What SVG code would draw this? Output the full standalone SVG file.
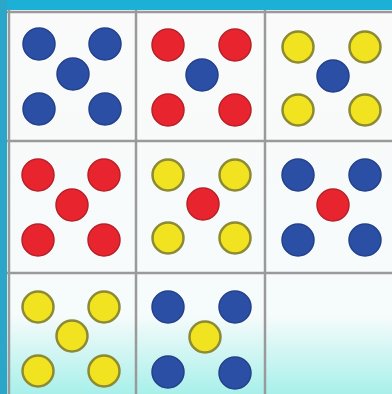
<svg xmlns="http://www.w3.org/2000/svg" width="392" height="394" viewBox="0 0 392 394">
<defs>
<linearGradient id="bg" x1="0" y1="0" x2="0" y2="1">
<stop offset="0" stop-color="#fafafa"/>
<stop offset="0.8" stop-color="#f6fbfb"/>
<stop offset="1" stop-color="#a8f0ea"/>
</linearGradient>
<style>
.b{fill:#2c4fa6;stroke:#23408a;stroke-width:1.5}
.r{fill:#e8252f;stroke:#b82028;stroke-width:1.5}
.y{fill:#f1e320;stroke:#8c8a34;stroke-width:2.5}
.g{stroke:#9a9a9a;stroke-width:2.5;fill:none}
</style>
</defs>
<rect width="392" height="394" fill="url(#bg)"/>
<rect x="0" y="0" width="392" height="10" fill="#1cb0d6"/>
<rect x="0" y="0" width="7" height="394" fill="#2ba6c8"/>
<g id="grid">
<line class="g" x1="7" y1="12" x2="392" y2="12" stroke="#7a7a7a"/>
<line class="g" x1="9" y1="10" x2="9" y2="394"/>
<line class="g" x1="7" y1="141" x2="392" y2="141"/>
<line class="g" x1="7" y1="273" x2="392" y2="273"/>
<line class="g" x1="136" y1="10" x2="136" y2="394"/>
<line class="g" x1="265" y1="10" x2="265" y2="394"/>
</g>
<g id="cell1"><circle class="b" cx="39" cy="44" r="16"/><circle class="b" cx="105" cy="44" r="16"/><circle class="b" cx="73" cy="74" r="16"/><circle class="b" cx="39" cy="109" r="16"/><circle class="b" cx="105" cy="109" r="16"/></g>
<g id="cell2"><circle class="r" cx="168" cy="45" r="16"/><circle class="r" cx="235" cy="45" r="16"/><circle class="b" cx="202" cy="75" r="16"/><circle class="r" cx="168" cy="110" r="16"/><circle class="r" cx="235" cy="110" r="16"/></g>
<g id="cell3"><circle class="y" cx="298" cy="47" r="15.5"/><circle class="y" cx="365" cy="47" r="15.5"/><circle class="b" cx="333" cy="76" r="16"/><circle class="y" cx="298" cy="110" r="15.5"/><circle class="y" cx="365" cy="110" r="15.5"/></g>
<g id="cell4"><circle class="r" cx="38" cy="175" r="16"/><circle class="r" cx="104" cy="175" r="16"/><circle class="r" cx="72" cy="205" r="16"/><circle class="r" cx="38" cy="240" r="16"/><circle class="r" cx="104" cy="240" r="16"/></g>
<g id="cell5"><circle class="y" cx="168" cy="175" r="15.5"/><circle class="y" cx="235" cy="175" r="15.5"/><circle class="r" cx="203" cy="204" r="16"/><circle class="y" cx="168" cy="238" r="15.5"/><circle class="y" cx="235" cy="238" r="15.5"/></g>
<g id="cell6"><circle class="b" cx="298" cy="175" r="16"/><circle class="b" cx="365" cy="175" r="16"/><circle class="r" cx="333" cy="205" r="16"/><circle class="b" cx="298" cy="240" r="16"/><circle class="b" cx="365" cy="240" r="16"/></g>
<g id="cell7"><circle class="y" cx="38" cy="307" r="15.5"/><circle class="y" cx="104" cy="307" r="15.5"/><circle class="y" cx="72" cy="336" r="15.5"/><circle class="y" cx="38" cy="371" r="15.5"/><circle class="y" cx="104" cy="371" r="15.5"/></g>
<g id="cell8"><circle class="b" cx="168" cy="307" r="16"/><circle class="b" cx="235" cy="307" r="16"/><circle class="y" cx="205" cy="337" r="15.5"/><circle class="b" cx="168" cy="372" r="16"/><circle class="b" cx="235" cy="373" r="16"/></g>
</svg>
